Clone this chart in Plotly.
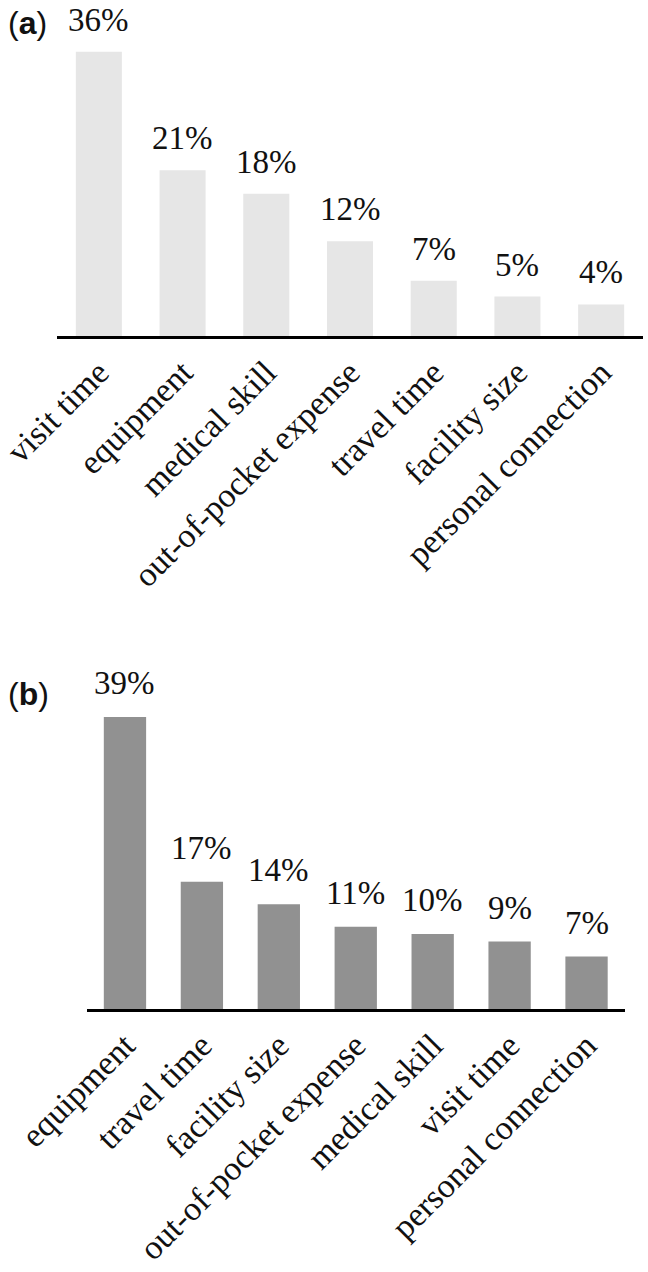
import plotly.graph_objects as go

cats_a = ["visit time", "equipment", "medical skill", "out-of-pocket expense",
          "travel time", "facility size", "personal connection"]
vals_a = [36, 21, 18, 12, 7, 5, 4]

cats_b = ["equipment", "travel time", "facility size", "out-of-pocket expense",
          "medical skill", "visit time", "personal connection"]
vals_b = [39, 17, 14, 11, 10, 9, 7]

H = 1272.0
W = 648.0
SERIF = "Liberation Serif, Times New Roman, serif"
SANS = "Liberation Sans, Arial, sans-serif"

fig = go.Figure()
fig.add_trace(go.Bar(x=cats_a, y=vals_a, marker_color="#e6e6e6", width=0.55,
                     xaxis="x", yaxis="y", showlegend=False, hoverinfo="skip"))
fig.add_trace(go.Bar(x=cats_b, y=vals_b, marker_color="#919191", width=0.55,
                     xaxis="x2", yaxis="y2", showlegend=False, hoverinfo="skip"))

annotations = []
for c, v in zip(cats_a, vals_a):
    annotations.append(dict(x=c, y=v, xref="x", yref="y", text=f"{v}%", showarrow=False,
                            yanchor="bottom", yshift=12,
                            font=dict(family=SERIF, size=33, color="#111")))
for c, v in zip(cats_b, vals_b):
    annotations.append(dict(x=c, y=v, xref="x2", yref="y2", text=f"{v}%", showarrow=False,
                            yanchor="bottom", yshift=14,
                            font=dict(family=SERIF, size=33, color="#111")))
annotations.append(dict(x=6 / W, y=1 - 23 / H, xref="paper", yref="paper", text="(<b>a</b>)",
                        showarrow=False, xanchor="left", yanchor="middle",
                        font=dict(family=SANS, size=32, color="#111")))
annotations.append(dict(x=6 / W, y=1 - 694 / H, xref="paper", yref="paper", text="(<b>b</b>)",
                        showarrow=False, xanchor="left", yanchor="middle",
                        font=dict(family=SANS, size=32, color="#111")))

xcommon = dict(type="category", showline=True, linecolor="black", linewidth=3,
               tickangle=-45, ticks="", showgrid=False, zeroline=False, automargin=False,
               tickfont=dict(family=SERIF, size=34, color="#111"), range=[-0.5, 6.5])
ycommon = dict(visible=False, showgrid=False, zeroline=False, automargin=False)

fig.update_layout(
    template="none",
    width=648, height=1272,
    margin=dict(l=0, r=0, t=0, b=0, autoexpand=False),
    paper_bgcolor="white", plot_bgcolor="white",
    xaxis=dict(xcommon, domain=[57 / W, 643 / W], anchor="y"),
    yaxis=dict(ycommon, domain=[1 - 336 / H, 1 - 24 / H], range=[0, 39.5], anchor="x"),
    xaxis2=dict(xcommon, domain=[86.5 / W, 625 / W], anchor="y2"),
    yaxis2=dict(ycommon, domain=[1 - 1009 / H, 1 - 687 / H], range=[0, 43], anchor="x2"),
    annotations=annotations,
)

fig.write_html("out.html", config={"displayModeBar": False},
               post_script="document.body.style.margin='0';document.body.style.overflow='hidden';")
